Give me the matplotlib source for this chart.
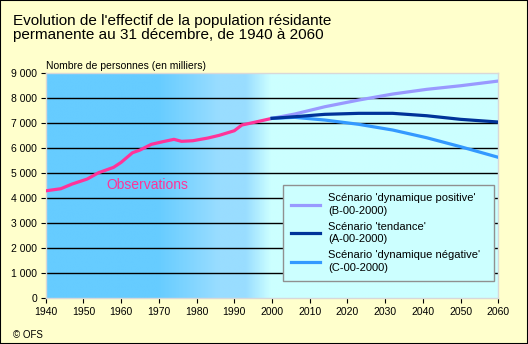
import matplotlib
matplotlib.use("Agg")
import matplotlib.pyplot as plt
import numpy as np
from matplotlib.colors import LinearSegmentedColormap
from matplotlib.patches import Rectangle
from matplotlib.ticker import FuncFormatter

plt.rcParams['font.family'] = ['Liberation Sans', 'DejaVu Sans']

# Observed resident population (thousands)
obs_years = [1940, 1944, 1947, 1951, 1954, 1958, 1960, 1963, 1965, 1968,
             1971, 1974, 1976, 1979, 1983, 1986, 1990, 1992, 1996, 2000]
obs_values = [4300, 4384, 4572, 4772, 5024, 5240, 5440, 5824, 5932, 6160,
              6264, 6360, 6280, 6304, 6412, 6520, 6704, 6932, 7064, 7200]

# Projection scenarios (thousands)
scen_years = [2000, 2006, 2014, 2023, 2032, 2041, 2050, 2060]
positive = [7200, 7372, 7664, 7932, 8172, 8360, 8504, 8692]
tendance = [7200, 7264, 7360, 7400, 7400, 7304, 7160, 7052]
negative = [7200, 7240, 7132, 6960, 6732, 6424, 6064, 5640]

x_ticks = [1940, 1950, 1960, 1970, 1980, 1990, 2000, 2010, 2020, 2030, 2040, 2050, 2060]
y_ticks = [0, 1000, 2000, 3000, 4000, 5000, 6000, 7000, 8000, 9000]

labels = ["Scénario 'dynamique positive'\n(B-00-2000)",
          "Scénario 'tendance'\n(A-00-2000)",
          "Scénario 'dynamique négative'\n(C-00-2000)"]

fig = plt.figure(figsize=(5.28, 3.44), dpi=100, facecolor='#FFFFCC')
ax = fig.add_axes([0.0866, 0.1328, 0.8572, 0.654])

# horizontal background gradient: deep blue for the past, pale cyan for projections
bg = LinearSegmentedColormap.from_list(
    'bg', [(0.0, '#66CCFF'), (0.246, '#66CCFF'), (0.381, '#99DDFF'),
           (0.441, '#99DDFF'), (0.496, '#CCFFFF'), (1.0, '#CCFFFF')])
ax.imshow(np.linspace(0, 1, 1200).reshape(1, -1), extent=[1940, 2060, 0, 9000],
          aspect='auto', cmap=bg, zorder=0, interpolation='bilinear')

ax.set_xlim(1940, 2060)
ax.set_ylim(0, 9000)

ax.hlines(y_ticks[1:-1], 1940, 2060, colors='black', lw=1, zorder=1)

ax.plot(obs_years, obs_values, color='#FF3399', lw=2.3, zorder=3, solid_capstyle='butt')
lp, = ax.plot(scen_years, positive, color='#9999FF', lw=2.3, zorder=3)
ln, = ax.plot(scen_years, negative, color='#3399FF', lw=2.3, zorder=3)
lt, = ax.plot(scen_years, tendance, color='#003399', lw=2.3, zorder=4)

ax.text(1967.0, 4544, 'Observations', color='#FF3399', fontsize=10,
        ha='center', va='center', zorder=5)

ax.set_xticks(x_ticks)
ax.set_yticks(y_ticks)
ax.yaxis.set_major_formatter(FuncFormatter(lambda v, p: f"{int(v):,}".replace(",", " ")))
ax.tick_params(axis='both', length=3.6, width=0.8, color='black', labelsize=7.5, pad=2.5)
for s in ax.spines.values():
    s.set_color('#D8D8D8')
    s.set_linewidth(1)

ax.text(0, 1.012, 'Nombre de personnes (en milliers)', transform=ax.transAxes,
        fontsize=7.5, ha='left', va='bottom')

leg = ax.legend(handles=[lp, lt, ln], labels=labels, loc='upper left',
                bbox_to_anchor=(0.524, 0.504, 0.466, 0), mode='expand',
                borderaxespad=0, fontsize=8, handlelength=2.6, handletextpad=0.7,
                borderpad=0.75, labelspacing=0.55, fancybox=False,
                edgecolor='#909090', facecolor='#CCFFFF', framealpha=1)
leg.get_frame().set_linewidth(1)
for t in leg.get_texts():
    t.set_linespacing(1.3)

fig.text(13 / 528, 1 - 24.5 / 344, "Evolution de l'effectif de la population résidante",
         fontsize=11, ha='left', va='baseline')
fig.text(13 / 528, 1 - 39.5 / 344, "permanente au 31 décembre, de 1940 à 2060",
         fontsize=11, ha='left', va='baseline')
fig.text(13 / 528, 1 - 334.5 / 344, '© OFS', fontsize=7, ha='left', va='center')

fig.add_artist(Rectangle((0, 0), 1, 1, transform=fig.transFigure, fill=False,
                         edgecolor='black', lw=1.5))

fig.savefig('out.png', dpi=100, facecolor=fig.get_facecolor())
